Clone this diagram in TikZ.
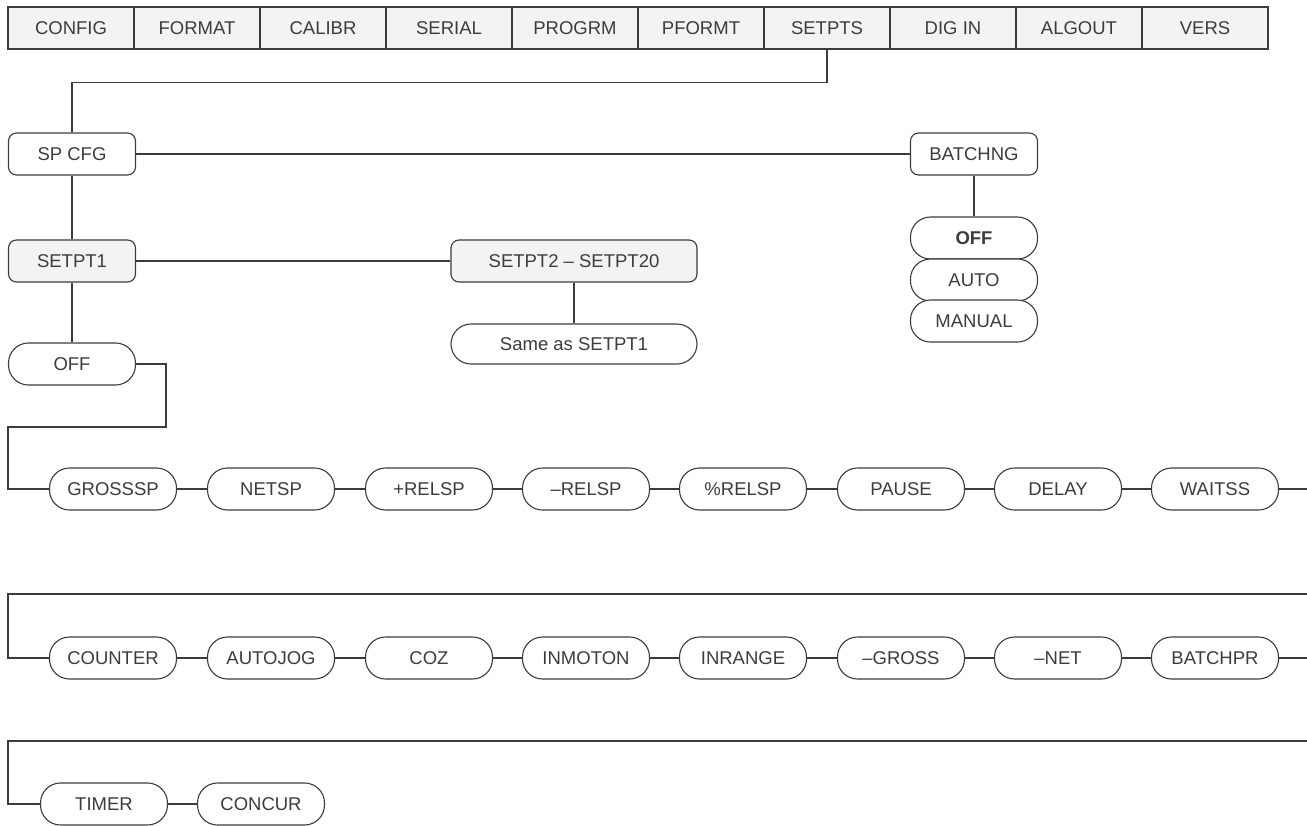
\documentclass[tikz,border=0pt]{standalone}
\usepackage{fontspec}
\setmainfont{Liberation Sans}
\usetikzlibrary{positioning}
\definecolor{ink}{RGB}{60,60,60}
\definecolor{menufill}{RGB}{243,243,243}
\tikzset{
  menucell/.style={rectangle, draw=ink, fill=menufill, line width=1.1pt,
                   minimum width=126pt, minimum height=42pt, inner sep=0pt,
                   text=ink, font=\fontsize{18.5}{20}\selectfont},
  parm/.style={rectangle, rounded corners=8pt, draw=ink, line width=1.1pt, fill=white,
               minimum width=127pt, minimum height=42pt, inner sep=0pt,
               text=ink, font=\fontsize{18.5}{20}\selectfont},
  parmG/.style={parm, fill=menufill},
  choice/.style={rectangle, rounded corners=20pt, draw=ink, line width=1.1pt, fill=white,
                 minimum width=127pt, minimum height=42pt, inner sep=0pt,
                 text=ink, font=\fontsize{18.5}{20}\selectfont},
  link/.style={draw=ink, line width=1.1pt},
}

\begin{document}
\begin{tikzpicture}[x=1pt,y=-1pt]
\useasboundingbox (0,0) rectangle (1307,825);

% ================= top menu =================
\node[menucell] (config) at (71,28)   {CONFIG};
\node[menucell] (format) at (197,28)  {FORMAT};
\node[menucell] (calibr) at (323,28)  {CALIBR};
\node[menucell] (serial) at (449,28)  {SERIAL};
\node[menucell] (progrm) at (575,28)  {PROGRM};
\node[menucell] (pformt) at (701,28)  {PFORMT};
\node[menucell] (setpts) at (827,28)  {SETPTS};
\node[menucell] (digin)  at (953,28)  {DIG IN};
\node[menucell] (algout) at (1079,28) {ALGOUT};
\node[menucell] (vers)   at (1205,28) {VERS};

% ================= SP CFG / BATCHNG =================
\node[parm] (spcfg)   at (72,154)  {SP CFG};
\node[parm] (batchng) at (974,154) {BATCHNG};
\node[choice] (bOff)    at (974,238) {\textbf{OFF}};
\node[choice] (bAuto)   at (974,280) {AUTO};
\node[choice] (bManual) at (974,321) {MANUAL};

\draw[link] (setpts.south) -- ++(0,33) -| (spcfg.north);
\draw[link] (spcfg.east) -- (batchng.west);
\draw[link] (batchng.south) -- (bOff.north);

% ================= SETPT1 / SETPT2--SETPT20 =================
\node[parmG] (setpt1) at (72,261)  {SETPT1};
\node[parmG, minimum width=246pt] (setptn) at (574,261) {SETPT2 – SETPT20};
\node[choice, minimum width=246pt, minimum height=40pt] (same) at (574,344) {Same as SETPT1};
\node[choice] (spOff) at (72,364) {OFF};

\draw[link] (spcfg.south) -- (setpt1.north);
\draw[link] (setpt1.east) -- (setptn.west);
\draw[link] (setptn.south) -- (same.north);
\draw[link] (setpt1.south) -- (spOff.north);

% ================= setpoint kinds, row 1 =================
\node[choice] (grosssp) at (113,489)  {GROSSSP};
\node[choice] (netsp)   at (271,489)  {NETSP};
\node[choice] (prelsp)  at (429,489)  {+RELSP};
\node[choice] (mrelsp)  at (586,489)  {–RELSP};
\node[choice] (pcrelsp) at (743,489)  {\%RELSP};
\node[choice] (pause)   at (901,489)  {PAUSE};
\node[choice] (delay)   at (1058,489) {DELAY};
\node[choice] (waitss)  at (1215,489) {WAITSS};

\coordinate (wrapA) at (166,427);
\coordinate (wrapB) at (8,427);
\coordinate (rowEndA) at (1307,489);
\draw[link] (spOff.east) -| (wrapA) -- (wrapB) |- (grosssp.west);
\draw[link] (grosssp) -- (netsp) -- (prelsp) -- (mrelsp) -- (pcrelsp)
            -- (pause) -- (delay) -- (waitss) -- (rowEndA);

% ================= row 2 =================
\node[choice] (counter) at (113,658)  {COUNTER};
\node[choice] (autojog) at (271,658)  {AUTOJOG};
\node[choice] (coz)     at (429,658)  {COZ};
\node[choice] (inmoton) at (586,658)  {INMOTON};
\node[choice] (inrange) at (743,658)  {INRANGE};
\node[choice] (mgross)  at (901,658)  {–GROSS};
\node[choice] (mnet)    at (1058,658) {–NET};
\node[choice] (batchpr) at (1215,658) {BATCHPR};

\coordinate (rowStartB) at (1307,594);
\coordinate (rowCornerB) at (8,594);
\coordinate (rowEndB) at (1307,658);
\draw[link] (rowStartB) -- (rowCornerB) |- (counter.west);
\draw[link] (counter) -- (autojog) -- (coz) -- (inmoton) -- (inrange)
            -- (mgross) -- (mnet) -- (batchpr) -- (rowEndB);

% ================= row 3 =================
\node[choice] (timer)  at (104,804) {TIMER};
\node[choice] (concur) at (261,804) {CONCUR};

\coordinate (rowStartC) at (1307,741);
\coordinate (rowCornerC) at (8,741);
\draw[link] (rowStartC) -- (rowCornerC) |- (timer.west);
\draw[link] (timer) -- (concur);

\end{tikzpicture}
\end{document}
